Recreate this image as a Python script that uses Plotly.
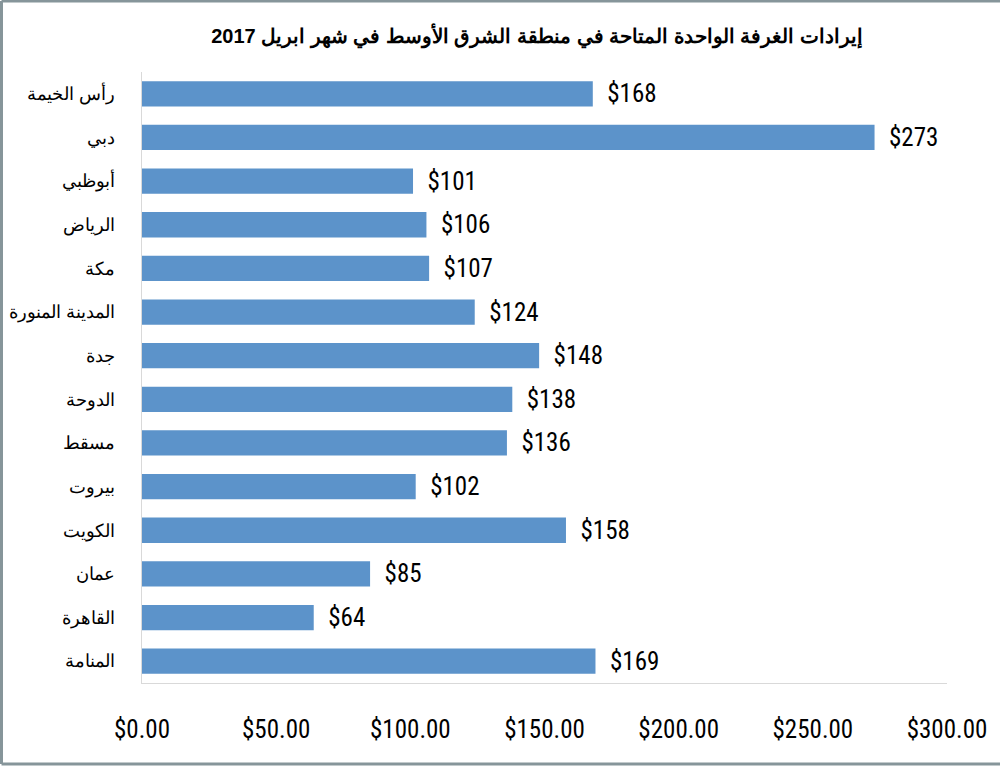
import plotly.graph_objects as go

title = "إيرادات الغرفة الواحدة المتاحة في منطقة الشرق الأوسط في شهر ابريل 2017"
cities = ["رأس الخيمة", "دبي", "أبوظبي", "الرياض", "مكة", "المدينة المنورة", "جدة",
          "الدوحة", "مسقط", "بيروت", "الكويت", "عمان", "القاهرة", "المنامة"]
revpar = [168, 273, 101, 106, 107, 124, 148, 138, 136, 102, 158, 85, 64, 169]
x_ticks = [0, 50, 100, 150, 200, 250, 300]
x_tick_labels = ["$0.00", "$50.00", "$100.00", "$150.00", "$200.00", "$250.00", "$300.00"]

W, H = 1000, 766
ML, MR, MT, MB = 142, 53, 72, 83
NARROW = "Liberation Sans Narrow, Roboto Condensed, Liberation Sans, Arial, sans-serif"

fig = go.Figure(go.Bar(
    x=revpar, y=cities, orientation="h",
    marker=dict(color="#5C93CA", line=dict(width=0)),
    text=["  $" + str(v) for v in revpar],
    textposition="outside", cliponaxis=False, constraintext="none",
    textfont=dict(family=NARROW, size=25, color="#000000"),
    width=0.58,
))

pw = W - ML - MR
ph = H - MT - MB
xl = -(ML - 1.5) / pw
xr = 1 + (MR + 5) / pw
yb = -(MB - 2) / ph
yt = 1 + (MT - 1) / ph
frame = dict(color="#86959A", width=3)
fig.add_shape(type="line", xref="paper", yref="paper", x0=xl, x1=xl, y0=yb, y1=yt, line=frame)
fig.add_shape(type="line", xref="paper", yref="paper", x0=xl, x1=xr, y0=yt, y1=yt, line=frame)
fig.add_shape(type="line", xref="paper", yref="paper", x0=xl, x1=xr, y0=yb, y1=yb, line=frame)

fig.update_layout(
    width=W, height=H,
    margin=dict(l=ML, r=MR, t=MT, b=MB, autoexpand=False),
    paper_bgcolor="white", plot_bgcolor="white",
    showlegend=False,
    title=dict(text="<b>" + title + "</b>", x=(537 - ML) / pw, xref="paper", xanchor="center",
               y=1 - 36 / H, yanchor="middle",
               font=dict(family="Liberation Sans, Arial, sans-serif", size=20, color="#000000")),
    xaxis=dict(range=[0, 300], tickvals=x_ticks, ticktext=x_tick_labels, automargin=False,
               showgrid=False, zeroline=False, showline=True, linecolor="#D9D9D9", linewidth=1,
               ticks="", ticklabelstandoff=24,
               tickfont=dict(family=NARROW, size=25, color="#000000")),
    yaxis=dict(autorange="reversed", showgrid=False, zeroline=False, automargin=False,
               showline=True, linecolor="#D9D9D9", linewidth=1, ticks="",
               ticklabelstandoff=22,
               tickfont=dict(family="Liberation Sans, Arial, sans-serif", size=18, color="#000000")),
)

fig.write_html("out.html")
